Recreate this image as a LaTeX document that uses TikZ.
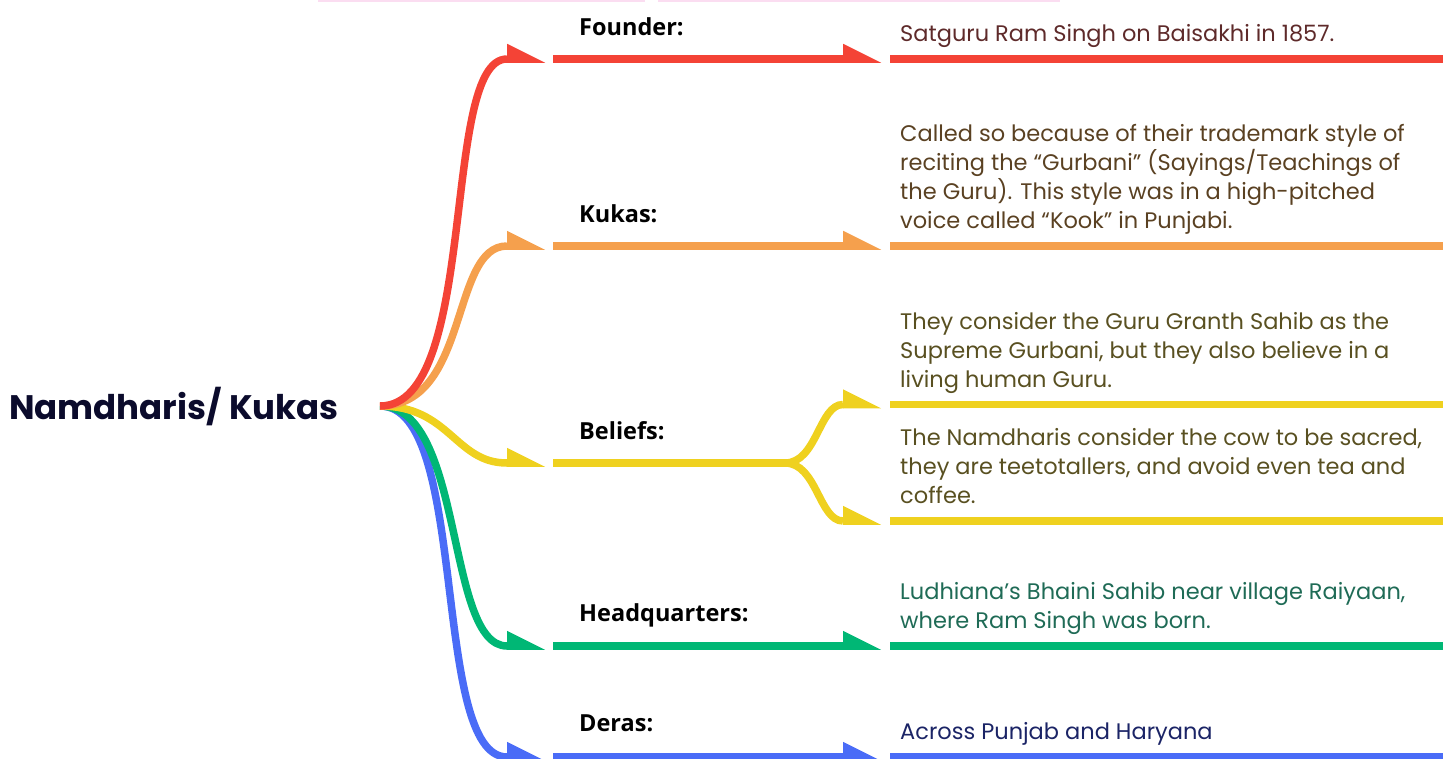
\documentclass[tikz,border=0pt]{standalone}
\usepackage{fontspec}
\setmainfont{Poppins}
\newfontfamily\labfont{Open Sans}
\usetikzlibrary{calc}
\definecolor{cred}{HTML}{F44336}
\definecolor{corange}{HTML}{F5A04D}
\definecolor{cyellow}{HTML}{EFD11F}
\definecolor{cgreen}{HTML}{00B775}
\definecolor{cblue}{HTML}{4A6CF7}
\definecolor{tred}{HTML}{5E2A2A}
\definecolor{torange}{HTML}{5A4122}
\definecolor{tyellow}{HTML}{595021}
\definecolor{tgreen}{HTML}{1F6B56}
\definecolor{tblue}{HTML}{1B2466}
\definecolor{tmain}{HTML}{0B0B2C}
\definecolor{pinkline}{HTML}{FBDDF1}
\newcommand\headtri[2]{\fill[#1] ($(#2)+(0,3.75)$) -- ++(0,-19) -- ++(38,19) -- cycle;}
\begin{document}
\begin{tikzpicture}[x=1pt,y=-1pt,
  wire/.style={line width=7.5pt},
  lab/.style={font=\labfont\bfseries\fontsize{23.5}{28}\selectfont, anchor=base west, inner sep=0pt, text=black},
  body/.style={font=\fontsize{22.5}{29}\selectfont, anchor=base west, inner sep=0pt, align=left}]
\useasboundingbox (0,0) rectangle (1451,758);
% faint top rule
\coordinate (p1) at (318,0.75); \coordinate (p2) at (645,0.75);
\coordinate (p3) at (658,0.75); \coordinate (p4) at (1060,0.75);
\draw[pinkline, line width=1.5pt] (p1) -- (p2) (p3) -- (p4);
% title
\node[anchor=base west, inner sep=0pt, font=\bfseries\fontsize{34}{40}\selectfont, text=tmain] (title) at (9,419) {Namdharis/ Kukas};
\coordinate (root) at (380,406);
% branch coordinates
\foreach \n/\y in {f/59, k/246, b/463, h/646, d/757}{
  \coordinate (\n0) at (507,\y);
  \coordinate (\n1) at (553,\y);
  \coordinate (\n2) at (843,\y);
  \coordinate (\n3) at (890,\y);
  \coordinate (\n4) at (1443,\y);
}
\coordinate (bs) at (790,463);
\coordinate (bc) at (785,463);
\foreach \n/\y in {u/404.5, l/521}{
  \coordinate (\n2) at (843,\y);
  \coordinate (\n3) at (890,\y);
  \coordinate (\n4) at (1443,\y);
}
% curves from root
\draw[wire,cblue] (root) .. controls +(90,0) and +(-77,0) .. (d0);
\draw[wire,cgreen] (root) .. controls +(85,0) and +(-62,0) .. (h0);
\draw[wire,cyellow] (root) .. controls +(70,0) and +(-52,0) .. (b0);
\draw[wire,corange] (root) .. controls +(90,0) and +(-57,0) .. (k0);
\draw[wire,cred] (root) .. controls +(100,0) and +(-67,0) .. (f0);
% straight branches
\foreach \n/\c in {f/cred, k/corange, h/cgreen, d/cblue}{
  \headtri{\c}{\n0}
  \draw[wire,\c] (\n1) -- (\n2);
  \headtri{\c}{\n2}
  \draw[wire,\c] (\n3) -- (\n4);
}
% beliefs split
\headtri{cyellow}{b0}
\draw[wire,cyellow] (b1) -- (bs);
\draw[wire,cyellow] (bc) .. controls +(32,0) and +(-24,0) .. (u2);
\draw[wire,cyellow] (bc) .. controls +(32,0) and +(-24,0) .. (l2);
\foreach \n in {u,l}{
  \headtri{cyellow}{\n2}
  \draw[wire,cyellow] (\n3) -- (\n4);
}
% labels
\node[lab] (lf) at (579,35) {Founder:};
\node[lab] (lk) at (579,222) {Kukas:};
\node[lab] (lb) at (579,439) {Beliefs:};
\node[lab] (lh) at (579,621) {Headquarters:};
\node[lab] (ld) at (579,731) {Deras:};
% texts (anchor = baseline of last line)
\node[body, text=tred] (tf) at (900,41) {Satguru Ram Singh on Baisakhi in 1857.};
\node[body, text=torange] (tk) at (900,228) {Called so because of their trademark style of\\reciting the “Gurbani” (Sayings/Teachings of\\the Guru). This style was in a high-pitched\\voice called “Kook” in Punjabi.};
\node[body, text=tyellow] (tu) at (900,387) {They consider the Guru Granth Sahib as the\\Supreme Gurbani, but they also believe in a\\living human Guru.};
\node[body, text=tyellow] (tl) at (900,503) {The Namdharis consider the cow to be sacred,\\they are teetotallers, and avoid even tea and\\coffee.};
\node[body, text=tgreen] (th) at (900,628) {Ludhiana’s Bhaini Sahib near village Raiyaan,\\where Ram Singh was born.};
\node[body, text=tblue] (td) at (900,739) {Across Punjab and Haryana};
\end{tikzpicture}
\end{document}
